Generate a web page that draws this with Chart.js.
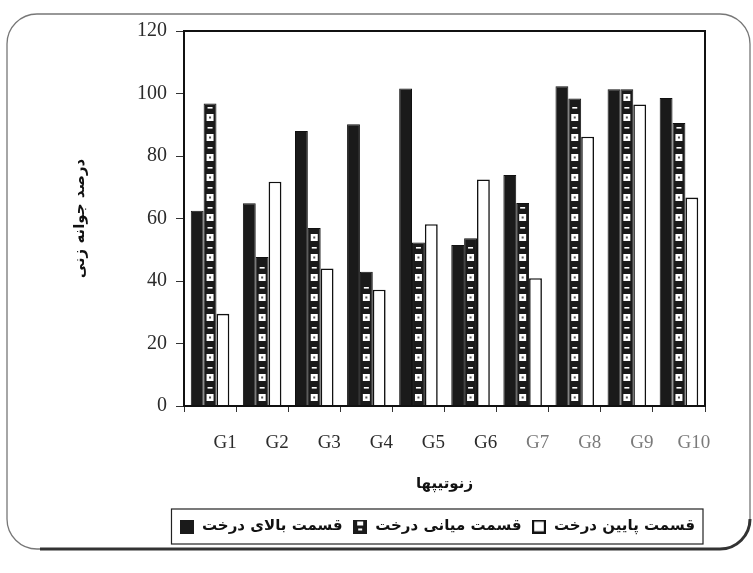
<!DOCTYPE html>
<html>
<head>
<meta charset="utf-8">
<script src="https://cdn.jsdelivr.net/npm/chart.js@4.4.1/dist/chart.umd.min.js"></script>
<style>
  html, body { margin: 0; padding: 0; background: #fff; }
  #wrap { width: 753px; height: 573px; }
</style>
</head>
<body>
<div id="wrap"><canvas id="germChart" width="753" height="573"></canvas></div>
<script>
const genotypes = ['G1', 'G2', 'G3', 'G4', 'G5', 'G6', 'G7', 'G8', 'G9', 'G10'];
const topPart = [62.5, 64.9, 88, 90.2, 101.6, 51.5, 73.9, 102.3, 101.4, 98.6];
const middlePart = [96.8, 47.7, 57, 43, 52.3, 53.7, 65, 98.4, 101.4, 90.6];
const bottomPart = [29.5, 71.8, 44, 37.2, 58.2, 72.5, 40.9, 86.2, 96.5, 66.7];
const seriesNames = ['قسمت بالای درخت', 'قسمت میانی درخت', 'قسمت پایین درخت'];
const yTitle = 'درصد جوانه زنی';
const xTitle = 'زنوتیپها';
const yMax = 120;
const yStep = 20;

const ink = '#1a1a1a';
const serif = 'Liberation Serif';
const persian = 'DejaVu Sans';

// small legend markers
function makeMarker(kind) {
    const c = document.createElement('canvas');
    c.width = 14; c.height = 14;
    const g = c.getContext('2d');
    if (kind === 'pattern') {
        g.fillStyle = ink; g.fillRect(0, 0, 14, 14);
        g.fillStyle = '#fff'; g.fillRect(4, 2, 6, 4); g.fillRect(5, 9, 4, 2);
    } else if (kind === 'open') {
        g.fillStyle = '#fff'; g.fillRect(0, 0, 14, 14);
        g.strokeStyle = '#111'; g.lineWidth = 2.2; g.strokeRect(1.1, 1.1, 11.8, 11.8);
    } else {
        g.fillStyle = ink; g.fillRect(0, 0, 14, 14);
    }
    return c;
}
const markers = [makeMarker('solid'), makeMarker('pattern'), makeMarker('open')];

// outer rounded frame of the scanned figure
const framePlugin = {
    id: 'frame',
    beforeDraw(chart) {
        const ctx = chart.ctx;
        ctx.save();
        ctx.fillStyle = '#fff';
        ctx.fillRect(0, 0, chart.width, chart.height);
        ctx.beginPath();
        ctx.roundRect(7, 14, 743, 535, 30);
        ctx.strokeStyle = '#777';
        ctx.lineWidth = 1.3;
        ctx.stroke();
        // darker lower edge
        ctx.beginPath();
        ctx.moveTo(40, 549);
        ctx.lineTo(720, 549);
        ctx.arcTo(750, 549, 750, 519, 30);
        ctx.strokeStyle = '#333';
        ctx.lineWidth = 3;
        ctx.stroke();
        ctx.restore();
    }
};

// film strip look of the middle bars, plot box, legend box
const decorPlugin = {
    id: 'decor',
    afterDatasetsDraw(chart) {
        const ctx = chart.ctx;
        const meta = chart.getDatasetMeta(1);
        ctx.save();
        meta.data.forEach(function(bar) {
            const top = Math.min(bar.y, bar.base);
            const cx = bar.x;
            for (let yy = bar.base - 8; yy - 4 > top + 2; yy -= 20) {
                ctx.fillStyle = '#fff';
                ctx.fillRect(cx - 3.5, yy - 3.5, 7, 7);
                ctx.fillStyle = '#555';
                ctx.fillRect(cx - 1, yy - 1, 2, 2);
                if (yy - 10 > top + 3) {
                    ctx.fillStyle = '#fff';
                    ctx.fillRect(cx - 2.5, yy - 10.5, 5, 1.6);
                }
            }
        });
        const a = chart.chartArea;
        ctx.strokeStyle = '#111';
        ctx.lineWidth = 2;
        ctx.strokeRect(a.left, a.top, a.right - a.left, a.bottom - a.top);
        ctx.restore();
    },
    afterDraw(chart) {
        const boxes = chart.legend.legendHitBoxes;
        if (!boxes || !boxes.length) return;
        const ctx = chart.ctx;
        let l = Infinity, r = -Infinity, t = Infinity, b = -Infinity;
        boxes.forEach(function(h) {
            l = Math.min(l, h.left); r = Math.max(r, h.left + h.width);
            t = Math.min(t, h.top); b = Math.max(b, h.top + h.height);
        });
        ctx.save();
        ctx.strokeStyle = '#222';
        ctx.lineWidth = 1.2;
        ctx.strokeRect(l - 8, t - 10, r - l + 16, b - t + 20);
        ctx.restore();
    }
};

const germCtx = document.getElementById('germChart').getContext('2d');
const germChart = new Chart(germCtx, {
    type: 'bar',
    data: {
        labels: genotypes,
        datasets: [{
            label: seriesNames[0],
            data: topPart,
            backgroundColor: ink,
            borderColor: '#111',
            borderWidth: 1
        }, {
            label: seriesNames[1],
            data: middlePart,
            backgroundColor: ink,
            borderColor: '#111',
            borderWidth: 1
        }, {
            label: seriesNames[2],
            data: bottomPart,
            backgroundColor: '#fff',
            borderColor: '#111',
            borderWidth: 1.6
        }]
    },
    options: {
        responsive: false,
        animation: false,
        categoryPercentage: 0.74,
        barPercentage: 1.0,
        layout: {
            padding: { top: 31, left: 62, right: 48, bottom: 29 }
        },
        scales: {
            x: {
                ticks: {
                    font: { family: serif, size: 19 },
                    color: ctx => ctx.index >= 6 ? '#7a7a7a' : '#2b2b2b',
                    padding: 20,
                    labelOffset: 15,
                    maxRotation: 0,
                    autoSkip: false
                },
                grid: { drawOnChartArea: false, tickLength: 6, color: '#333', offset: true },
                border: { display: true, color: '#111', width: 2 },
                title: {
                    display: true,
                    text: xTitle,
                    font: { family: persian, size: 15, weight: 'bold' },
                    color: '#111',
                    padding: { top: 0, bottom: 16 }
                },
                afterFit: function(scale) { scale.height = 103; }
            },
            y: {
                min: 0,
                max: yMax,
                ticks: {
                    stepSize: yStep,
                    font: { family: serif, size: 20 },
                    color: '#2b2b2b',
                    padding: 9
                },
                grid: { drawOnChartArea: false, tickLength: 8, color: '#333' },
                border: { display: true, color: '#111', width: 2 },
                title: {
                    display: true,
                    text: yTitle,
                    font: { family: persian, size: 15, weight: 'bold' },
                    color: '#111',
                    padding: { top: 9, bottom: 0 }
                },
                afterFit: function(scale) { scale.width = 122; }
            }
        },
        plugins: {
            legend: {
                position: 'bottom',
                align: 'end',
                labels: {
                    usePointStyle: true,
                    padding: 10,
                    color: '#111',
                    font: { family: persian, size: 15, weight: 'bold' },
                    generateLabels: function(chart) {
                        const items = Chart.defaults.plugins.legend.labels.generateLabels(chart);
                        items.forEach(function(item, i) { item.pointStyle = markers[i]; });
                        return items;
                    }
                }
            },
            tooltip: { enabled: false }
        }
    },
    plugins: [framePlugin, decorPlugin]
});
</script>
</body>
</html>
